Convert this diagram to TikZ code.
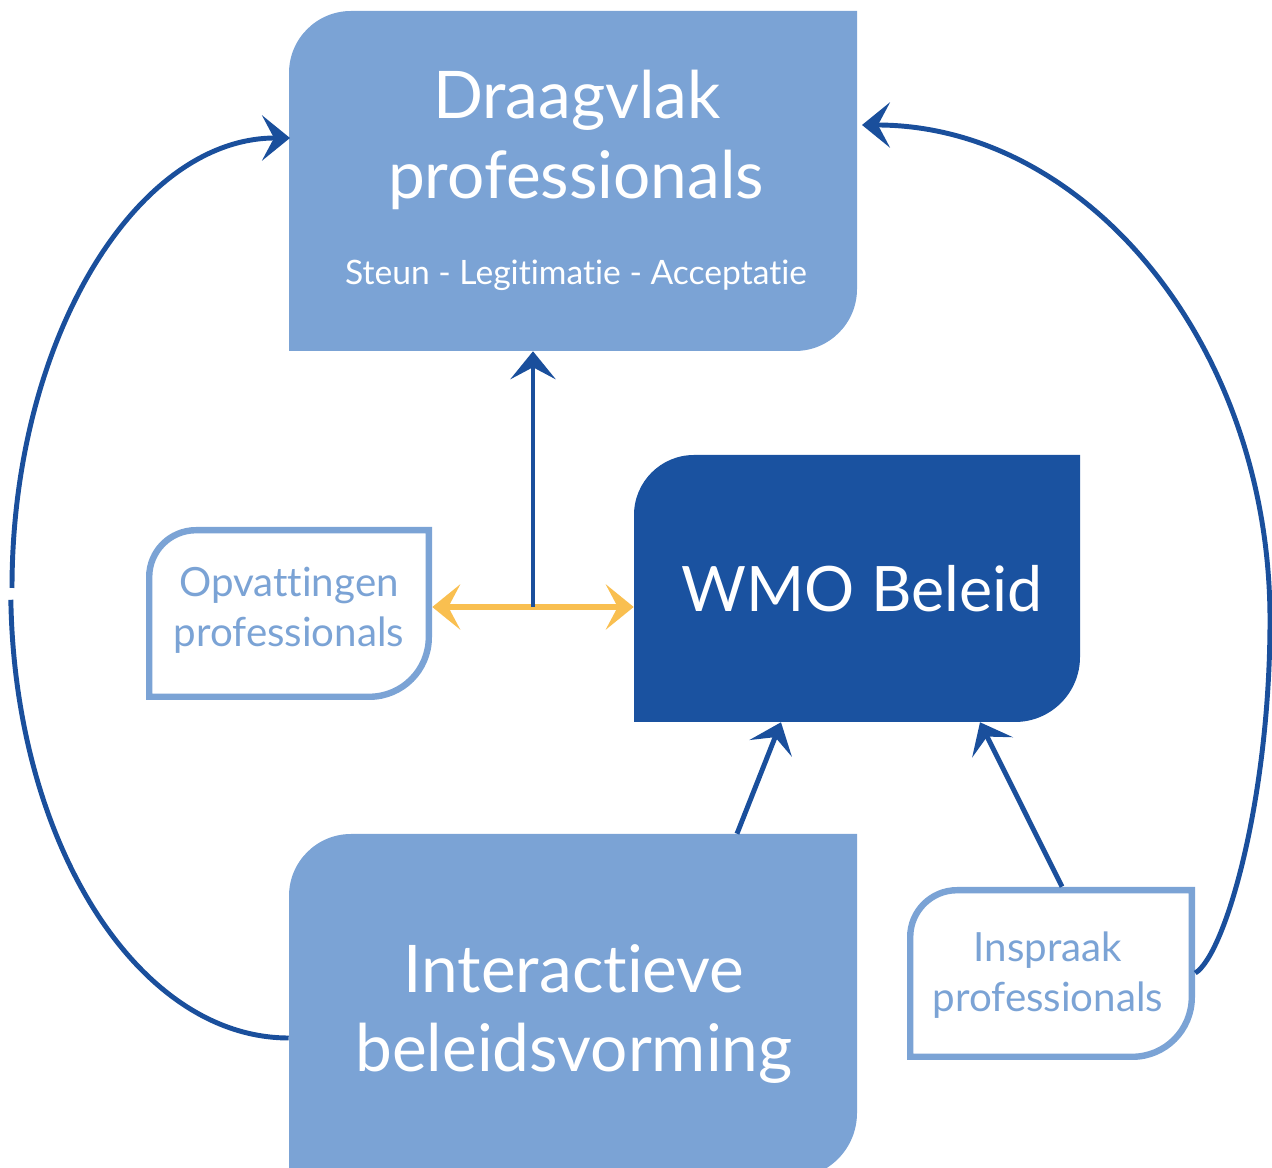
\documentclass[tikz,border=0pt]{standalone}
\usepackage{fontspec}
\setmainfont{Lato}[Ligatures={NoCommon,NoRare,NoContextual}]
\usetikzlibrary{arrows.meta,fit}
\definecolor{boxlight}{HTML}{7BA3D5}
\definecolor{boxdark}{HTML}{1A52A0}
\definecolor{linkblue}{HTML}{1A4F9C}
\definecolor{linkgold}{HTML}{F9BF50}
\begin{document}
\begin{tikzpicture}[x=0.75pt,y=0.75pt,
  tip/.tip={Stealth[length=21pt,width=34pt,inset=9pt]},
  link/.style={draw=linkblue,line width=3.7pt},
  frame/.style={inner sep=0pt},
  bigtxt/.style={anchor=base,text=white,font=\fontsize{49.3}{58}\selectfont},
  midtxt/.style={anchor=base,text=white,font=\fontsize{25.2}{32}\selectfont},
  smalltxt/.style={anchor=base,text=boxlight,font=\fontsize{30.2}{36}\selectfont},
  outline/.style={draw=boxlight,line width=4.8pt,fill=white}]
\useasboundingbox (0,0) rectangle (1272,1168);
\clip (0,0) rectangle (1272,1168);

% anchor frames of the five blocks
\node[frame,fit={(289,817) (857,1157)}] (drag) {};
\node[frame,fit={(634,446) (1080,713)}] (wmo) {};
\node[frame,fit={(146,468) (432,641)}] (opv) {};
\node[frame,fit={(289,0) (857,334)}] (inter) {};
\node[frame,fit={(907,108) (1195,281)}] (insp) {};

% filled blocks: rounded top-left and bottom-right corners
\fill[boxlight] (289,817) -- (289,1095) arc[start angle=180,end angle=90,radius=62]
  -- (857,1157) -- (857,879) arc[start angle=0,end angle=-90,radius=62] -- cycle;
\fill[boxdark] (634,446) -- (634,653) arc[start angle=180,end angle=90,radius=60]
  -- (1080,713) -- (1080,511) arc[start angle=0,end angle=-90,radius=65] -- cycle;
\fill[boxlight] (289,-10) -- (289,272) arc[start angle=180,end angle=90,radius=62]
  -- (857,334) -- (857,55) arc[start angle=0,end angle=-90,radius=65] -- cycle;

% outlined blocks
\path[outline] (149.2,471.2) -- (149.2,591) arc[start angle=180,end angle=90,radius=46.8]
  -- (428.8,637.8) -- (428.8,530.7) arc[start angle=0,end angle=-90,radius=59.5] -- cycle;
\path[outline] (910.2,111.2) -- (910.2,231) arc[start angle=180,end angle=90,radius=46.8]
  -- (1191.8,277.8) -- (1191.8,170.7) arc[start angle=0,end angle=-90,radius=59.5] -- cycle;

% labels
\node[bigtxt] (dragA) at (577,1049) {Draagvlak};
\node[bigtxt] (dragB) at (576,969) {professionals};
\node[midtxt] (dragC) at (576,883) {Steun - Legitimatie - Acceptatie};
\node[anchor=base,text=white,font=\fontsize{47}{56}\selectfont] (wmoA) at (862,556) {WMO Beleid};
\node[smalltxt] (opvA) at (289,571) {Opvattingen};
\node[smalltxt] (opvB) at (289,521) {professionals};
\node[bigtxt] (interA) at (574,175) {Interactieve};
\node[bigtxt] (interB) at (574,96) {beleidsvorming};
\node[smalltxt] (inspA) at (1048,206) {Inspraak};
\node[smalltxt] (inspB) at (1048,156) {professionals};

% connectors
\coordinate (mid) at (533,561);
\draw[draw=linkgold,line width=4.5pt,{tip[fill=linkgold]}-{tip[fill=linkgold]}]
  (opv.east |- mid) -- (wmo.west |- mid);
\draw[link,-tip] (mid) -- (mid |- drag.south);
\draw[link,-tip] (737,0 |- inter.north) -- (781,0 |- wmo.south);
\draw[link,-tip] (1062,0 |- insp.north) -- (980,0 |- wmo.south);

% left loop
\draw[link] (inter.west |- 0,130) arc[start angle=270,end angle=181.5,x radius=278,y radius=450];
\draw[link,-tip] (12,580) arc[start angle=180,end angle=90,x radius=278,y radius=450];

% right loop
\draw[link,-tip] (insp.east |- 0,195) .. controls (1225,213) and (1270,368) .. (1270,548)
  arc[start angle=0,end angle=90,x radius=408,y radius=495];
\end{tikzpicture}
\end{document}
